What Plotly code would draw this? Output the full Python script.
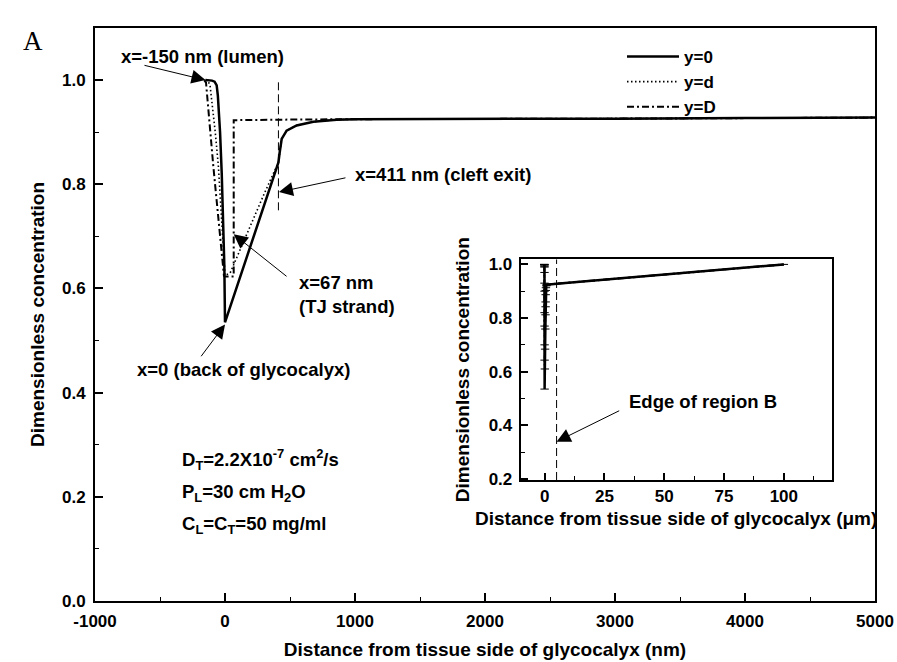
import plotly.graph_objects as go

# ---------------- data ----------------
# main panel, distance in nm, dimensionless concentration
x_y0 = [-150, -120, -100, -80, -70, -64, -55, -45, -38, -25, -18, -10, -5, 0,
        100, 200, 300, 372, 411, 420, 436, 474, 551, 680, 859, 1000, 2000, 3000, 4000, 5000]
c_y0 = [1.000, 1.000, 0.999, 0.997, 0.993, 0.990, 0.970, 0.930, 0.900, 0.820, 0.770, 0.700, 0.643, 0.535,
        0.610, 0.684, 0.759, 0.812, 0.842, 0.860, 0.887, 0.903, 0.913, 0.920, 0.924, 0.925, 0.925, 0.926, 0.927, 0.928]

x_yd = [-150, -130, -115, -95, -75, -51, -35, -18, -8, 0, 40, 100, 200, 300, 411,
        420, 436, 474, 551, 680, 859, 1000, 2000, 3000, 4000, 5000]
c_yd = [1.000, 0.998, 0.990, 0.950, 0.900, 0.835, 0.770, 0.707, 0.660, 0.625, 0.630, 0.665, 0.722, 0.781, 0.842,
        0.860, 0.887, 0.903, 0.913, 0.920, 0.924, 0.925, 0.925, 0.926, 0.927, 0.928]

x_yD = [-160, -146, -90, -38, -8, 0, 67, 67, 100, 411, 1000, 2000, 3000, 4000, 5000]
c_yD = [1.000, 0.995, 0.835, 0.707, 0.624, 0.623, 0.623, 0.923, 0.923, 0.924, 0.925, 0.925, 0.926, 0.927, 0.928]

# inset: far-field tissue points, distance in micrometres
x_far_um = [100]
c_far = [1.000]

# reference lines
cleft_exit_nm = 411
cleft_line_c = [0.75, 1.0]
edge_B_um = 5
edge_line_c = [0.196, 1.019]

series_names = ["y=0", "y=d", "y=D"]
main_x_ticks = [-1000, 0, 1000, 2000, 3000, 4000, 5000]
main_x_ticklabels = ["-1000", "0", "1000", "2000", "3000", "4000", "5000"]
inset_x_ticks = [0, 25, 50, 75, 100]
inset_x_ticklabels = ["0", "25", "50", "75", "100"]

# ---------------- figure ----------------
W, H = 897, 662
FONT = "Liberation Sans, Arial, Helvetica, sans-serif"


def fx(p):
    return p / W


def fy(p):
    return 1 - p / H


styles = [
    dict(color="black", width=2.5),
    dict(color="black", width=1.6, dash="1.5px,2.5px"),
    dict(color="black", width=2, dash="7px,3px,2px,3px"),
]
xs = [x_y0, x_yd, x_yD]
cs = [c_y0, c_yd, c_yD]

fig = go.Figure()
for name, x, c, st in zip(series_names, xs, cs, styles):
    fig.add_trace(go.Scatter(x=x, y=c, mode="lines", name=name, line=st,
                             xaxis="x", yaxis="y"))

fig.add_trace(go.Scatter(x=[cleft_exit_nm, cleft_exit_nm], y=cleft_line_c, mode="lines",
                         line=dict(color="black", width=1, dash="8px,4px"),
                         showlegend=False, xaxis="x", yaxis="y"))

# inset
for i, (x, c, st) in enumerate(zip(xs, cs, styles)):
    xu = [v / 1000 for v in x] + x_far_um
    cu = c + c_far
    fig.add_trace(go.Scatter(x=xu, y=cu, mode="lines+markers" if i == 0 else "lines",
                             marker=dict(symbol="line-ew", size=6, line=dict(width=1, color="black")),
                             line=st, showlegend=False, xaxis="x2", yaxis="y2"))

fig.add_trace(go.Scatter(x=[edge_B_um, edge_B_um], y=edge_line_c, mode="lines",
                         line=dict(color="black", width=1, dash="8px,4px"),
                         showlegend=False, xaxis="x2", yaxis="y2"))

tickfont = dict(family=FONT, size=17, color="black", weight="bold")
titlefont = dict(family=FONT, size=19, color="black", weight="bold")
common = dict(showline=True, mirror=True, linecolor="black", linewidth=2,
              ticks="inside", tickcolor="black", tickwidth=1.5, automargin=False,
              showgrid=False, zeroline=False, tickfont=tickfont)

fig.update_layout(
    width=W, height=H, autosize=False,
    margin=dict(l=0, r=0, t=0, b=0, autoexpand=False),
    paper_bgcolor="white", plot_bgcolor="white",
    font=dict(family=FONT, color="black"),
    xaxis=dict(domain=[fx(95), fx(875)], range=[-1000, 5000], anchor="y",
               tickmode="array", tickvals=main_x_ticks, ticktext=main_x_ticklabels,
               ticklen=8, ticklabelstandoff=4,
               minor=dict(dtick=500, tick0=-1000, ticks="inside", ticklen=4, tickcolor="black", tickwidth=1),
               title=dict(text="Distance from tissue side of glycocalyx (nm)", font=titlefont, standoff=12),
               **common),
    yaxis=dict(domain=[fy(601), fy(28)], range=[0, 1.1], anchor="x",
               dtick=0.2, tick0=0, tickformat=".1f", ticklen=8, ticklabelstandoff=4,
               minor=dict(dtick=0.1, tick0=0, ticks="inside", ticklen=4, tickcolor="black", tickwidth=1),
               title=dict(text="Dimensionless concentration", font=titlefont, standoff=12),
               **common),
    xaxis2=dict(domain=[fx(520.7), fx(831.7)], range=[-10, 120], anchor="y2",
                tickmode="array", tickvals=inset_x_ticks, ticktext=inset_x_ticklabels, ticklen=7,
                minor=dict(dtick=12.5, tick0=0, ticks="inside", ticklen=4, tickcolor="black", tickwidth=1),
                title=dict(text="Distance from tissue side of glycocalyx (μm)", font=titlefont, standoff=6),
                **common),
    yaxis2=dict(domain=[fy(480), fy(259.3)], range=[0.196, 1.019], anchor="x2",
                dtick=0.2, tick0=0.2, tickformat=".1f", ticklen=7, ticklabelstandoff=3,
                minor=dict(dtick=0.1, tick0=0.2, ticks="inside", ticklen=4, tickcolor="black", tickwidth=1),
                title=dict(text="Dimensionless concentration", font=titlefont, standoff=14),
                **common),
    legend=dict(x=fx(622), y=fy(39), xanchor="left", yanchor="top",
                bgcolor="rgba(0,0,0,0)", borderwidth=0, itemwidth=52,
                font=dict(family=FONT, size=17, color="black", weight="bold"),
                tracegroupgap=0),
    showlegend=True,
)

afont = dict(family=FONT, size=18.5, color="black", weight="bold")
ann = []
# text labels
ann.append(dict(x=-173, y=1.046, xref="x", yref="y", text="x=-150 nm (lumen)", showarrow=False, font=afont))
ann.append(dict(x=985, y=0.819, xref="x", yref="y", text="x=411 nm (cleft exit)", showarrow=False,
                xanchor="left", font=afont))
ann.append(dict(x=554, y=0.5875, xref="x", yref="y", text="x=67 nm<br>(TJ strand)", showarrow=False,
                xanchor="left", align="left", font=afont))
ann.append(dict(x=142, y=0.444, xref="x", yref="y", text="x=0 (back of glycocalyx)", showarrow=False, font=afont))
ann.append(dict(x=66, y=0.4906, xref="x2", yref="y2", text="Edge of region B", showarrow=False, font=afont))
# parameter block
ann.append(dict(x=-346, y=0.271, xref="x", yref="y", xanchor="left",
                text="D<sub>T</sub>=2.2X10<sup>-7</sup> cm<sup>2</sup>/s", showarrow=False, font=afont))
ann.append(dict(x=-346, y=0.208, xref="x", yref="y", xanchor="left",
                text="P<sub>L</sub>=30 cm H<sub>2</sub>O", showarrow=False, font=afont))
ann.append(dict(x=-346, y=0.146, xref="x", yref="y", xanchor="left",
                text="C<sub>L</sub>=C<sub>T</sub>=50 mg/ml", showarrow=False, font=afont))
# panel letter
ann.append(dict(x=fx(21), y=fy(24), xref="paper", yref="paper", text="A", showarrow=False,
                font=dict(family="Liberation Serif, Times New Roman, serif", size=27, color="black")))

arrow = dict(text="", showarrow=True, arrowhead=2, arrowsize=2.8, arrowwidth=1, arrowcolor="black")
ann.append(dict(x=-150, y=1.0, ax=-631, ay=1.029, xref="x", yref="y", axref="x", ayref="y", **arrow))
ann.append(dict(x=415, y=0.785, ax=938, ay=0.813, xref="x", yref="y", axref="x", ayref="y", **arrow))
ann.append(dict(x=67, y=0.704, ax=485, ay=0.621, xref="x", yref="y", axref="x", ayref="y", **arrow))
ann.append(dict(x=0, y=0.531, ax=-192, ay=0.467, xref="x", yref="y", axref="x", ayref="y", **arrow))
ann.append(dict(x=edge_B_um, y=0.339, ax=31.8, ay=0.457, xref="x2", yref="y2", axref="x2", ayref="y2", **arrow))

fig.update_layout(annotations=ann)

fig.write_html("out.html")
